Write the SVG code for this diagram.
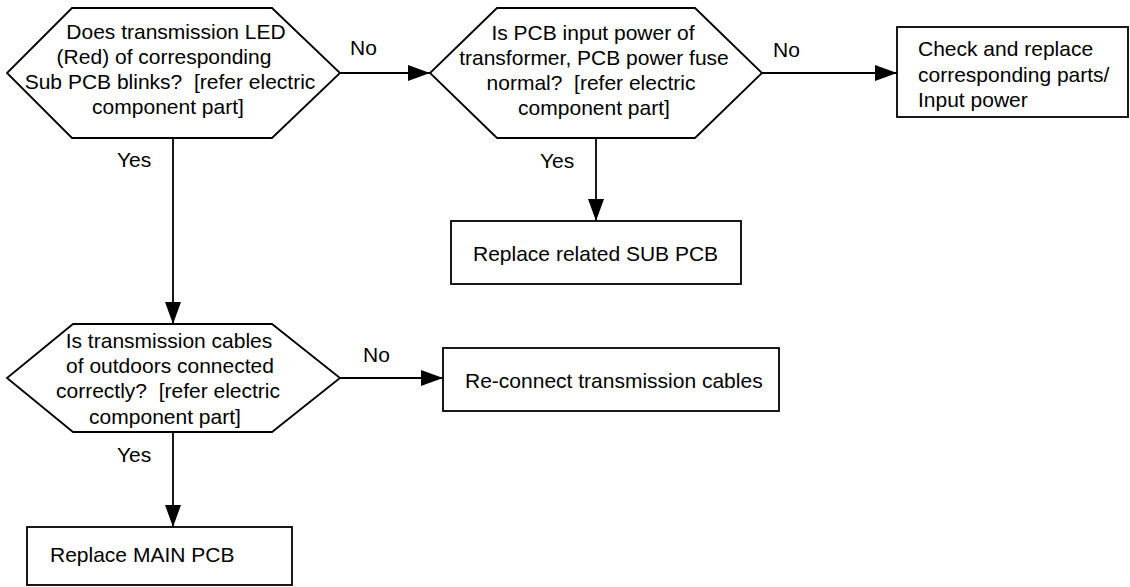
<svg xmlns="http://www.w3.org/2000/svg" width="1130" height="587" viewBox="0 0 1130 587">
<style>
.shape{fill:#fff;stroke:#000;stroke-width:1.8}
.conn{fill:none;stroke:#000;stroke-width:1.8}
text{font-family:"Liberation Sans",Arial,sans-serif;font-size:21px;fill:#000;white-space:pre}
.c{text-anchor:middle}
</style>
<defs>
<marker id="arr" markerUnits="userSpaceOnUse" markerWidth="24" markerHeight="18" refX="22" refY="8" orient="auto">
<path d="M0,0 L22,8 L0,16 Z" fill="#000"/>
</marker>
</defs>
<rect width="1130" height="587" fill="#fff"/>
<g id="connectors">
<path class="conn" d="M340,73 L430,73" marker-end="url(#arr)"/>
<path class="conn" d="M762,73 L897,73" marker-end="url(#arr)"/>
<path class="conn" d="M596,138 L596,221" marker-end="url(#arr)"/>
<path class="conn" d="M173,138 L173,324" marker-end="url(#arr)"/>
<path class="conn" d="M340,378 L443,378" marker-end="url(#arr)"/>
<path class="conn" d="M173,432 L173,527" marker-end="url(#arr)"/>
<text x="350" y="55">No</text>
<text x="773" y="57">No</text>
<text x="540" y="168">Yes</text>
<text x="117" y="167">Yes</text>
<text x="363" y="362">No</text>
<text x="117" y="462">Yes</text>
</g>
<g id="q1">
<polygon class="shape" points="72,8 272,8 340,73 272,138 72,138 7,73"/>
<text class="c" x="176" y="39">Does transmission LED</text>
<text class="c" x="164" y="64">(Red) of corresponding</text>
<text class="c" x="170" y="89" xml:space="preserve">Sub PCB blinks?  [refer electric</text>
<text class="c" x="168" y="114">component part]</text>
</g>
<g id="q2">
<polygon class="shape" points="497,8 695,8 762,73 695,138 497,138 430,73"/>
<text class="c" x="593" y="40">Is PCB input power of</text>
<text class="c" x="594" y="65">transformer, PCB power fuse</text>
<text class="c" x="591" y="90" xml:space="preserve">normal?  [refer electric</text>
<text class="c" x="594" y="115">component part]</text>
</g>
<g id="check">
<rect class="shape" x="897" y="27" width="231" height="90"/>
<text x="918" y="56">Check and replace</text>
<text x="918" y="82">corresponding parts/</text>
<text x="918" y="107">Input power</text>
</g>
<g id="subpcb">
<rect class="shape" x="451" y="221" width="290" height="63"/>
<text x="473" y="261">Replace related SUB PCB</text>
</g>
<g id="q3">
<polygon class="shape" points="73,324 272,324 340,378 272,432 73,432 7,378"/>
<text class="c" x="169" y="348">Is transmission cables</text>
<text class="c" x="170" y="373">of outdoors connected</text>
<text class="c" x="168" y="398" xml:space="preserve">correctly?  [refer electric</text>
<text class="c" x="165" y="424">component part]</text>
</g>
<g id="reconnect">
<rect class="shape" x="443" y="348" width="336" height="63"/>
<text x="465" y="388">Re-connect transmission cables</text>
</g>
<g id="mainpcb">
<rect class="shape" x="27" y="527" width="265" height="58"/>
<text x="50" y="562">Replace MAIN PCB</text>
</g>
</svg>
